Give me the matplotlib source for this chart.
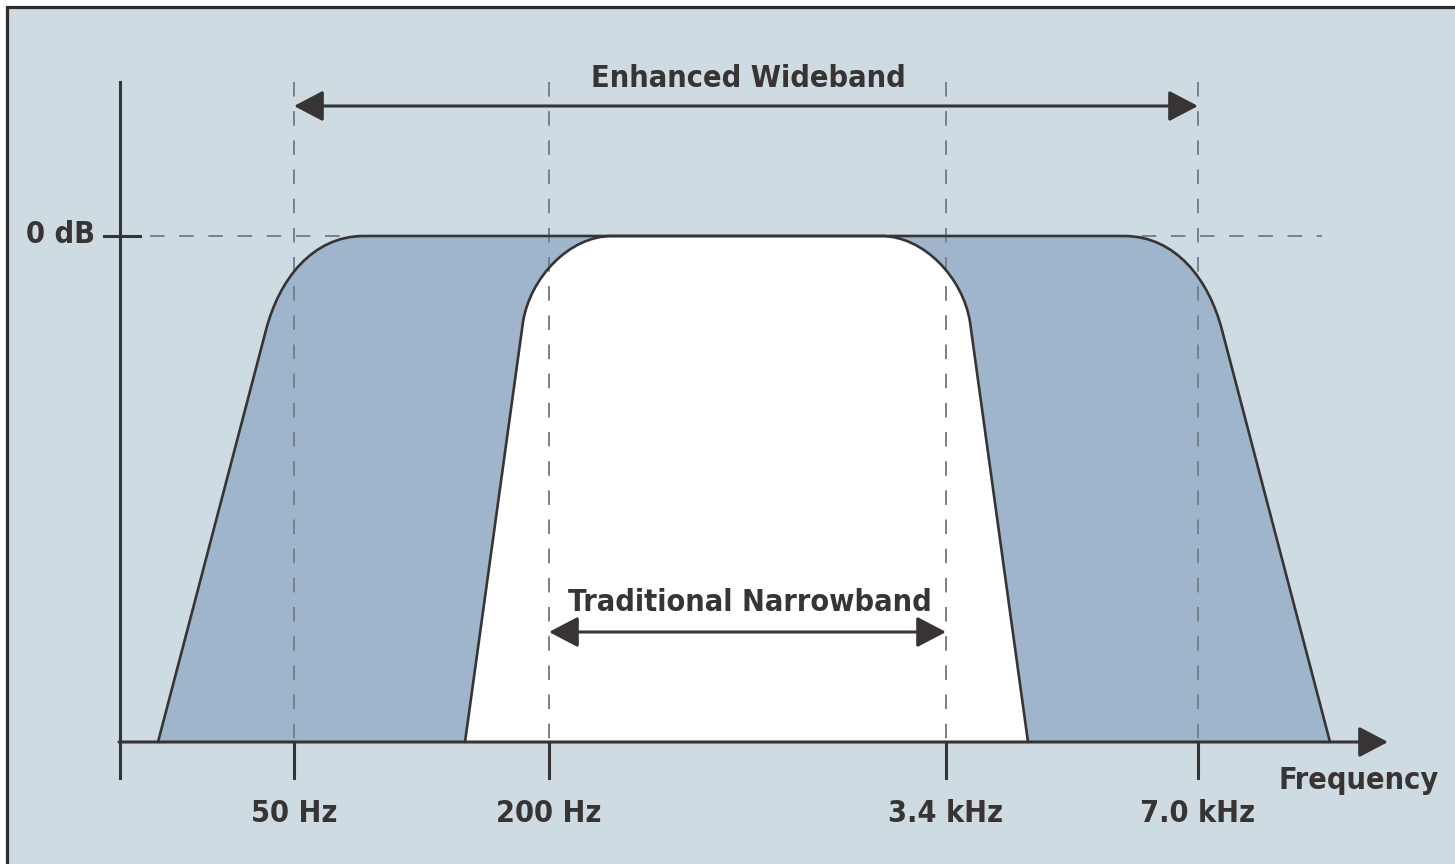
import matplotlib.pyplot as plt
from matplotlib.path import Path
from matplotlib.patches import PathPatch, Rectangle

# drawing units follow the picture (x to the right, y downward)
freq_labels = ["50 Hz", "200 Hz", "3.4 kHz", "7.0 kHz"]
freq_pos = [294, 549, 946, 1198]
zero_db_y = 236
base_y = 742
axis_x = 120
axis_top = 82
axis_end = 1388

# band outlines: straight flanks with rounded shoulders (M, L, C, C, C, L, C, C, C, L)
wide_pts = [(158, 742), (266, 330), (279, 280), (312, 236), (364, 236),
            (1124, 236), (1176, 236), (1209, 280), (1222, 330), (1330, 742)]
narrow_pts = [(465, 742), (523, 322), (530, 278), (569, 236), (612, 236),
              (881, 236), (924, 236), (963, 278), (970, 322), (1028, 742)]
shape_codes = [Path.MOVETO, Path.LINETO, Path.CURVE4, Path.CURVE4, Path.CURVE4,
               Path.LINETO, Path.CURVE4, Path.CURVE4, Path.CURVE4, Path.LINETO]

wide_span = (294, 1198)
narrow_span = (549, 946)

bg = "#cfdbe2"
wide_col = "#9eb5cc"
ink = "#383434"
dash_col = "#75828b"
font = ["Liberation Sans Narrow", "DejaVu Sans"]
txt = dict(fontsize=22, fontweight="bold", fontstretch="condensed", family=font, color=ink)

fig = plt.figure(figsize=(14.55, 8.64), dpi=100)
fig.patch.set_facecolor("white")
ax = fig.add_axes([0, 0, 1, 1])
ax.set_xlim(0, 1455)
ax.set_ylim(864, 0)
ax.axis("off")

ax.add_patch(Rectangle((7, 7), 1500, 900, facecolor=bg, edgecolor="#2c2c2c", lw=2.3, zorder=0))

# filled bands
for pts, col in [(wide_pts, wide_col), (narrow_pts, "white")]:
    p = Path(pts, shape_codes)
    ax.add_patch(PathPatch(p, facecolor=col, edgecolor="none", zorder=1))

# dashed guides
for x in freq_pos:
    ax.plot([x, x], [axis_top, base_y], color=dash_col, lw=1.4, ls=(0, (7.5, 7.5)), zorder=2)
ax.plot([150, 1322], [zero_db_y, zero_db_y], color=dash_col, lw=1.4, ls=(0, (7.5, 7.5)), zorder=2)

# outlines on top
for pts in [wide_pts, narrow_pts]:
    p = Path(pts, shape_codes)
    ax.add_patch(PathPatch(p, facecolor="none", edgecolor=ink, lw=1.9, zorder=3,
                           capstyle="round", joinstyle="round"))

# axes
ax.plot([axis_x, axis_x], [axis_top, 778], color=ink, lw=2.2, zorder=4)
ax.annotate("", xy=(axis_end, base_y), xytext=(axis_x - 1, base_y),
            arrowprops=dict(arrowstyle="-|>,head_length=0.8,head_width=0.42", mutation_scale=22.5,
                            lw=2.2, color=ink, shrinkA=0, shrinkB=0), zorder=4)
ax.plot([104, 140], [zero_db_y, zero_db_y], color=ink, lw=2.2, zorder=4)
for x, lab in zip(freq_pos, freq_labels):
    ax.plot([x, x], [base_y, 778], color=ink, lw=2.2, zorder=4)
    ax.text(x, 822, lab, ha="center", va="baseline", **txt)

ax.text(95, 243, "0 dB", ha="right", va="baseline", **txt)
ax.text(1359, 789, "Frequency", ha="center", va="baseline", **txt)

# band arrows
for (x0, x1), y, lab, ty in [(wide_span, 106, "Enhanced Wideband", 87),
                             (narrow_span, 632, "Traditional Narrowband", 611)]:
    ax.annotate("", xy=(x1, y), xytext=(x0, y),
                arrowprops=dict(arrowstyle="<|-|>,head_length=0.8,head_width=0.42", mutation_scale=22.5,
                                lw=2.2, color=ink, shrinkA=0, shrinkB=0), zorder=5)
    ax.text((x0 + x1) / 2 + 2, ty, lab, ha="center", va="baseline", zorder=5, **txt)

fig.savefig("out.png", dpi=100, facecolor="white")
